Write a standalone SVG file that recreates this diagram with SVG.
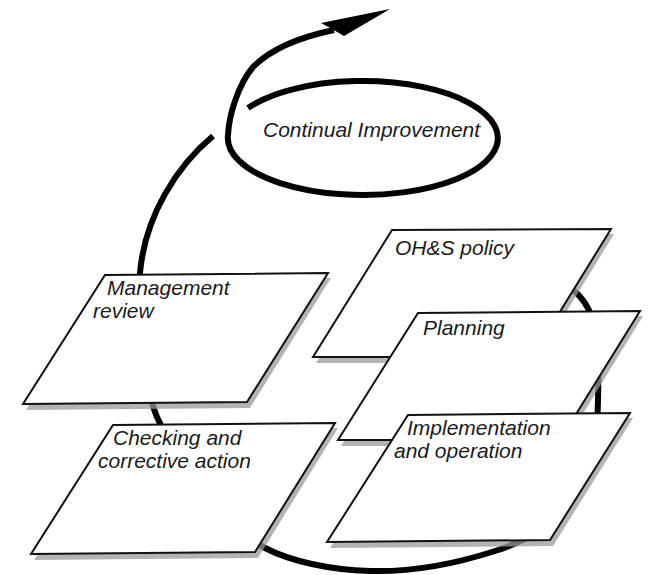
<svg xmlns="http://www.w3.org/2000/svg" width="648" height="575" viewBox="0 0 648 575">
<style>
.card{fill:#fff;stroke:#111;stroke-width:2;stroke-linejoin:miter}
.shadow{fill:#9a9a9a;fill-opacity:0.75}
.lbl{font-family:"Liberation Sans",Arial,sans-serif;font-style:italic;font-size:21px;fill:#1a1a1a}
.loop{fill:none;stroke:#000;stroke-width:6;stroke-linecap:butt}
</style>
<rect width="648" height="575" fill="#fff"/>
<g id="connectors">
  <path class="loop" d="M560,282 C595,298 600,330 598,400 C598,470 565,530 495,551 C455,564 410,572 370,571 C330,570 290,561 265,548 C220,525 175,460 157,417 C145,388 135,320 140,273 C145,215 178,165 213,136"/>
  <path class="loop" d="M248,108 A135,57 0 1 1 228,135 C229,115 238,85 253,67 C268,52 295,38 334,30"/>
  <polygon points="390,9 321,23 332,29 344,36" fill="#000"/>
</g>
<g id="continual-improvement">
  <text class="lbl" x="263" y="137">Continual Improvement</text>
</g>
<g id="management-review">
  <polygon class="shadow" points="108,280 331,278 250,408 26,410"/>
  <polygon class="card" points="105,275 328,273 247,402 23,404"/>
  <text class="lbl" x="107" y="295">Management</text>
  <text class="lbl" x="93" y="318">review</text>
</g>
<g id="checking">
  <polygon class="shadow" points="116,430 338,428 258,558 34,560"/>
  <polygon class="card" points="113,425 335,423 255,552 31,554"/>
  <text class="lbl" x="113" y="445">Checking and</text>
  <text class="lbl" x="98" y="468">corrective action</text>
</g>
<g id="ohs-policy">
  <polygon class="shadow" points="395,235 614,234 535,363 316,363"/>
  <polygon class="card" points="392,230 611,229 532,357 313,357"/>
  <text class="lbl" x="395" y="255">OH&amp;S policy</text>
</g>
<g id="planning">
  <polygon class="shadow" points="421,318 643,316 563,446 341,446"/>
  <polygon class="card" points="418,313 640,311 560,440 338,440"/>
  <text class="lbl" x="423" y="335">Planning</text>
</g>
<g id="implementation">
  <polygon class="shadow" points="411,420 633,418 553,546 330,548"/>
  <polygon class="card" points="408,415 630,413 550,540 327,542"/>
  <text class="lbl" x="407" y="435">Implementation</text>
  <text class="lbl" x="394" y="458">and operation</text>
</g>
</svg>
